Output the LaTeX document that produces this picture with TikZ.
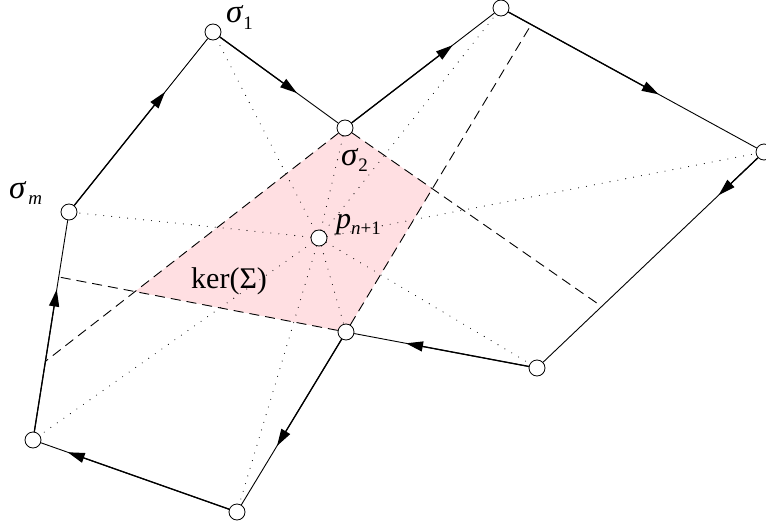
\documentclass[tikz,border=0pt]{standalone}
\usepackage{fontspec}
\setmainfont{Liberation Serif}
\usetikzlibrary{arrows.meta,calc}
\definecolor{kpink}{RGB}{255,223,226}
\pgfdeclarelayer{fillayer}
\pgfdeclarelayer{linelayer}
\pgfsetlayers{fillayer,linelayer,main}
\newcommand{\lsub}[1]{\raisebox{-6.5pt}{\fontsize{19}{19}\selectfont #1}}
\newcommand{\sig}{{\fontsize{33}{33}\selectfont\itshape σ}}
\begin{document}
\begin{tikzpicture}[x=1pt,y=-1pt,
  vtx/.style={circle,draw,fill=white,minimum size=16pt,inner sep=0pt,line width=0.8pt},
  edgeline/.style={line width=0.9pt},
  headseg/.style={line width=1.3pt,-{Triangle[length=17pt,width=10pt]}},
  dotline/.style={line width=1.1pt,line cap=round,dash pattern=on 0pt off 8pt},
  dashline/.style={line width=0.9pt,dash pattern=on 10pt off 6pt},
  lbl/.style={font=\fontsize{30}{34}\selectfont,inner sep=0pt,anchor=base west,text height=14pt}]
\useasboundingbox (0,0) rectangle (766,527);
% vertices
\node[vtx] (A) at (213,32) {};
\node[vtx] (B) at (345,128) {};
\node[vtx] (C) at (501,8) {};
\node[vtx] (D) at (764,152) {};
\node[vtx] (E) at (537,368) {};
\node[vtx] (F) at (346,332) {};
\node[vtx] (G) at (237,512) {};
\node[vtx] (H) at (33,440) {};
\node[vtx] (I) at (69,212) {};
\node[vtx] (P) at (319,238) {};
% ends of the kernel lines on the polygon edges
\coordinate (X1) at ($(D)!0.715!(E)$);
\coordinate (X2) at ($(C)!0.115!(D)$);
\coordinate (X3) at ($(H)!0.345!(I)$);
\coordinate (X4) at ($(H)!0.715!(I)$);
\coordinate (Q1) at (intersection of B--X1 and F--X2);
\coordinate (Q2) at (intersection of B--X3 and F--X4);
\begin{pgfonlayer}{fillayer}
  \fill[kpink] (B.center) -- (Q1) -- (F.center) -- (Q2) -- cycle;
\end{pgfonlayer}
\begin{pgfonlayer}{linelayer}
  \foreach \v in {A,B,C,D,E,F,G,H,I} \draw[dotline] (P) -- (\v);
  \draw[dashline] (B) -- (X1);
  \draw[dashline] (B) -- (X3);
  \draw[dashline] (F) -- (X2);
  \draw[dashline] (F) -- (X4);
  \draw[edgeline] (I) -- (A);
  \draw[headseg] (I) -- ($(I)!0.667!(A)$);
  \draw[edgeline] (A) -- (B);
  \draw[headseg] (A) -- ($(A)!0.636!(B)$);
  \draw[edgeline] (B) -- (C);
  \draw[headseg] (B) -- ($(B)!0.69!(C)$);
  \draw[edgeline] (C) -- (D);
  \draw[headseg] (C) -- ($(C)!0.6!(D)$);
  \draw[edgeline] (D) -- (E);
  \draw[headseg] (D) -- ($(D)!0.2!(E)$);
  \draw[edgeline] (E) -- (F);
  \draw[headseg] (E) -- ($(E)!0.686!(F)$);
  \draw[edgeline] (F) -- (G);
  \draw[headseg] (F) -- ($(F)!0.633!(G)$);
  \draw[edgeline] (G) -- (H);
  \draw[headseg] (G) -- ($(G)!0.83!(H)$);
  \draw[edgeline] (H) -- (I);
  \draw[headseg] (H) -- ($(H)!0.66!(I)$);
\end{pgfonlayer}
% labels
\node[lbl] (l1) at (226,23) {\sig\kern1pt\lsub{1}};
\node[lbl] (l2) at (341,165) {\sig\kern1pt\lsub{2}};
\node[lbl] (lm) at (9,198) {\sig\kern3pt\lsub{\itshape m}};
\node[lbl,text height=20pt] (lp) at (336,228) {\textit{p}\lsub{\itshape n\upshape +1}};
\node[lbl,text height=20pt] (lk) at (191,288) {ker(Σ)};
\end{tikzpicture}
\end{document}
